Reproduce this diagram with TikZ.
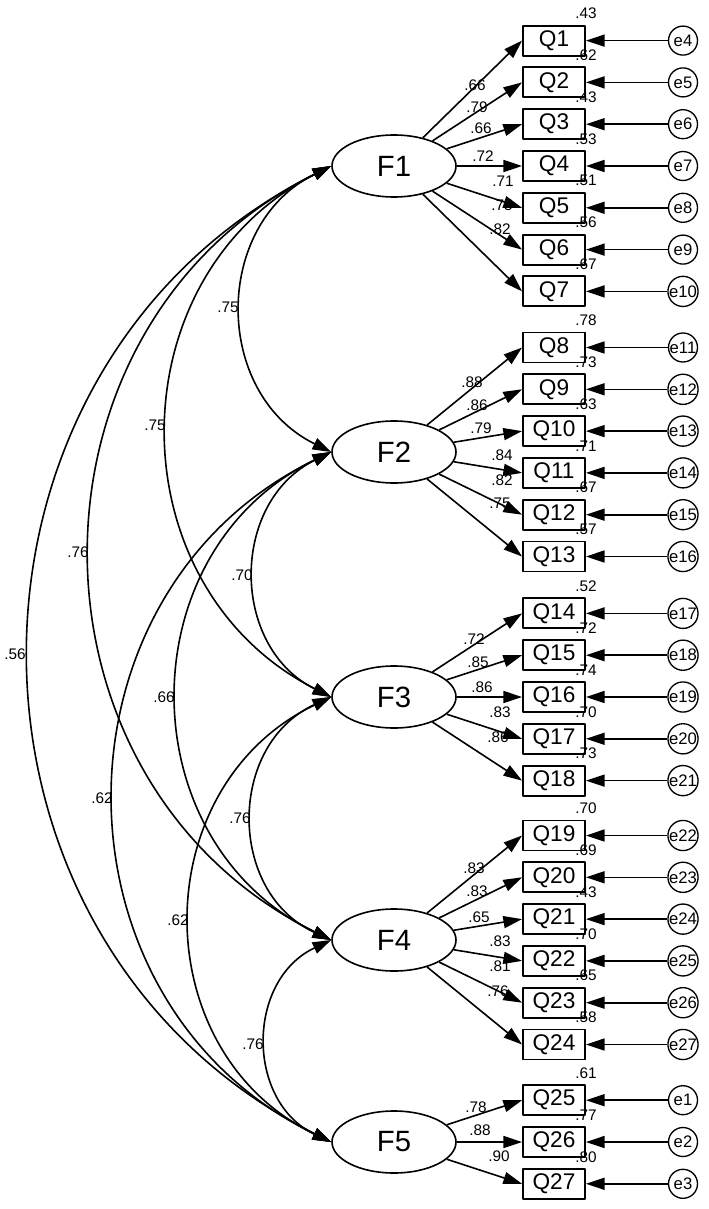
\documentclass[tikz,border=0pt]{standalone}
\usepackage{fontspec}
\setmainfont{Liberation Sans}
\usetikzlibrary{arrows.meta,shapes.geometric}

\tikzset{
  latent/.style={ellipse,draw,line width=1.2pt,minimum width=93pt,minimum height=46.5pt,inner sep=0pt,font=\fontsize{22}{22}\selectfont},
  item/.style={rectangle,draw,line width=1.4pt,minimum width=46.5pt,minimum height=22.5pt,inner sep=0pt,font=\fontsize{17}{17}\selectfont},
  resid/.style={circle,draw,line width=1pt,minimum size=21.75pt,inner sep=0pt,font=\fontsize{12.5}{12.5}\selectfont},
  est/.style={inner sep=0pt,font=\fontsize{11.5}{11.5}\selectfont},
  arr/.style={->,line width=1.2pt},
  covarr/.style={<->,line width=1.2pt}
}

\begin{document}
\begin{tikzpicture}[x=0.75pt, y=-0.75pt, >={Triangle[length=14pt,width=9pt]}, line join=round]
  \useasboundingbox (0,0) rectangle (708,1209);
  % factors
  \node[latent] (F1) at (394,166) {F1};
  \node[latent] (F2) at (394,452) {F2};
  \node[latent] (F3) at (394,697) {F3};
  \node[latent] (F4) at (394,940) {F4};
  \node[latent] (F5) at (394,1142) {F5};
  % items
  \node[item] (Q1) at (554,40.6) {Q1};
  \node[item] (Q2) at (554,82.4) {Q2};
  \node[item] (Q3) at (554,124.2) {Q3};
  \node[item] (Q4) at (554,166) {Q4};
  \node[item] (Q5) at (554,207.8) {Q5};
  \node[item] (Q6) at (554,249.6) {Q6};
  \node[item] (Q7) at (554,291.4) {Q7};
  \node[item] (Q8) at (554,347.5) {Q8};
  \node[item] (Q9) at (554,389.3) {Q9};
  \node[item] (Q10) at (554,431.1) {Q10};
  \node[item] (Q11) at (554,472.9) {Q11};
  \node[item] (Q12) at (554,514.7) {Q12};
  \node[item] (Q13) at (554,556.5) {Q13};
  \node[item] (Q14) at (554,613.4) {Q14};
  \node[item] (Q15) at (554,655.2) {Q15};
  \node[item] (Q16) at (554,697) {Q16};
  \node[item] (Q17) at (554,738.8) {Q17};
  \node[item] (Q18) at (554,780.6) {Q18};
  \node[item] (Q19) at (554,835.5) {Q19};
  \node[item] (Q20) at (554,877.3) {Q20};
  \node[item] (Q21) at (554,919.1) {Q21};
  \node[item] (Q22) at (554,960.9) {Q22};
  \node[item] (Q23) at (554,1002.7) {Q23};
  \node[item] (Q24) at (554,1044.5) {Q24};
  \node[item] (Q25) at (554,1100.2) {Q25};
  \node[item] (Q26) at (554,1142) {Q26};
  \node[item] (Q27) at (554,1183.8) {Q27};
  % errors
  \node[resid] (e4) at (683,40.6) {e4};
  \node[resid] (e5) at (683,82.4) {e5};
  \node[resid] (e6) at (683,124.2) {e6};
  \node[resid] (e7) at (683,166) {e7};
  \node[resid] (e8) at (683,207.8) {e8};
  \node[resid] (e9) at (683,249.6) {e9};
  \node[resid] (e10) at (683,291.4) {e10};
  \node[resid] (e11) at (683,347.5) {e11};
  \node[resid] (e12) at (683,389.3) {e12};
  \node[resid] (e13) at (683,431.1) {e13};
  \node[resid] (e14) at (683,472.9) {e14};
  \node[resid] (e15) at (683,514.7) {e15};
  \node[resid] (e16) at (683,556.5) {e16};
  \node[resid] (e17) at (683,613.4) {e17};
  \node[resid] (e18) at (683,655.2) {e18};
  \node[resid] (e19) at (683,697) {e19};
  \node[resid] (e20) at (683,738.8) {e20};
  \node[resid] (e21) at (683,780.6) {e21};
  \node[resid] (e22) at (683,835.5) {e22};
  \node[resid] (e23) at (683,877.3) {e23};
  \node[resid] (e24) at (683,919.1) {e24};
  \node[resid] (e25) at (683,960.9) {e25};
  \node[resid] (e26) at (683,1002.7) {e26};
  \node[resid] (e27) at (683,1044.5) {e27};
  \node[resid] (e1) at (683,1100.2) {e1};
  \node[resid] (e2) at (683,1142) {e2};
  \node[resid] (e3) at (683,1183.8) {e3};
  % loadings
  \draw[arr] (F1) -- (Q1.west);
  \draw[arr] (F1) -- (Q2.west);
  \draw[arr] (F1) -- (Q3.west);
  \draw[arr] (F1) -- (Q4.west);
  \draw[arr] (F1) -- (Q5.west);
  \draw[arr] (F1) -- (Q6.west);
  \draw[arr] (F1) -- (Q7.west);
  \draw[arr] (F2) -- (Q8.west);
  \draw[arr] (F2) -- (Q9.west);
  \draw[arr] (F2) -- (Q10.west);
  \draw[arr] (F2) -- (Q11.west);
  \draw[arr] (F2) -- (Q12.west);
  \draw[arr] (F2) -- (Q13.west);
  \draw[arr] (F3) -- (Q14.west);
  \draw[arr] (F3) -- (Q15.west);
  \draw[arr] (F3) -- (Q16.west);
  \draw[arr] (F3) -- (Q17.west);
  \draw[arr] (F3) -- (Q18.west);
  \draw[arr] (F4) -- (Q19.west);
  \draw[arr] (F4) -- (Q20.west);
  \draw[arr] (F4) -- (Q21.west);
  \draw[arr] (F4) -- (Q22.west);
  \draw[arr] (F4) -- (Q23.west);
  \draw[arr] (F4) -- (Q24.west);
  \draw[arr] (F5) -- (Q25.west);
  \draw[arr] (F5) -- (Q26.west);
  \draw[arr] (F5) -- (Q27.west);
  % residual paths
  \draw[arr] (e4) -- (Q1);
  \draw[arr] (e5) -- (Q2);
  \draw[arr] (e6) -- (Q3);
  \draw[arr] (e7) -- (Q4);
  \draw[arr] (e8) -- (Q5);
  \draw[arr] (e9) -- (Q6);
  \draw[arr] (e10) -- (Q7);
  \draw[arr] (e11) -- (Q8);
  \draw[arr] (e12) -- (Q9);
  \draw[arr] (e13) -- (Q10);
  \draw[arr] (e14) -- (Q11);
  \draw[arr] (e15) -- (Q12);
  \draw[arr] (e16) -- (Q13);
  \draw[arr] (e17) -- (Q14);
  \draw[arr] (e18) -- (Q15);
  \draw[arr] (e19) -- (Q16);
  \draw[arr] (e20) -- (Q17);
  \draw[arr] (e21) -- (Q18);
  \draw[arr] (e22) -- (Q19);
  \draw[arr] (e23) -- (Q20);
  \draw[arr] (e24) -- (Q21);
  \draw[arr] (e25) -- (Q22);
  \draw[arr] (e26) -- (Q23);
  \draw[arr] (e27) -- (Q24);
  \draw[arr] (e1) -- (Q25);
  \draw[arr] (e2) -- (Q26);
  \draw[arr] (e3) -- (Q27);
  % factor covariances
  \draw[covarr] (F1.west) .. controls +(-118.7,58.4) and +(-118.7,-58.4) .. (F2.west);
  \draw[covarr] (F1.west) .. controls +(-217.3,110.3) and +(-217.3,-110.3) .. (F3.west);
  \draw[covarr] (F1.west) .. controls +(-319.9,158.7) and +(-319.9,-158.7) .. (F4.west);
  \draw[covarr] (F1.west) .. controls +(-401.1,201.4) and +(-401.1,-201.4) .. (F5.west);
  \draw[covarr] (F2.west) .. controls +(-101.3,50.2) and +(-101.3,-50.2) .. (F3.west);
  \draw[covarr] (F2.west) .. controls +(-204.1,98.8) and +(-204.1,-98.8) .. (F4.west);
  \draw[covarr] (F2.west) .. controls +(-288.1,139.9) and +(-288.1,-139.9) .. (F5.west);
  \draw[covarr] (F3.west) .. controls +(-104.0,47.6) and +(-104.0,-47.6) .. (F4.west);
  \draw[covarr] (F3.west) .. controls +(-186.8,89.7) and +(-186.8,-89.7) .. (F5.west);
  \draw[covarr] (F4.west) .. controls +(-85.3,40.3) and +(-85.3,-40.3) .. (F5.west);
  % correlation labels
  \node[est] (c12) at (228,307) {.75};
  \node[est] (c13) at (155,425) {.75};
  \node[est] (c14) at (78,552) {.76};
  \node[est] (c15) at (15,654) {.56};
  \node[est] (c23) at (242,575) {.70};
  \node[est] (c24) at (164,697) {.66};
  \node[est] (c25) at (102,798) {.62};
  \node[est] (c34) at (240,818) {.76};
  \node[est] (c35) at (178,920) {.62};
  \node[est] (c45) at (253,1044) {.76};
  % standardized loadings
  \node[est] (w1) at (475,85) {.66};
  \node[est] (w2) at (477,107) {.79};
  \node[est] (w3) at (481,128) {.66};
  \node[est] (w4) at (483,156) {.72};
  \node[est] (w5) at (503,181) {.71};
  \node[est] (w6) at (502,205) {.75};
  \node[est] (w7) at (500,229) {.82};
  \node[est] (w8) at (472,382) {.88};
  \node[est] (w9) at (477,405) {.86};
  \node[est] (w10) at (481,428) {.79};
  \node[est] (w11) at (502,455) {.84};
  \node[est] (w12) at (502,480) {.82};
  \node[est] (w13) at (500,503) {.75};
  \node[est] (w14) at (474,639) {.72};
  \node[est] (w15) at (478,662) {.85};
  \node[est] (w16) at (482,687) {.86};
  \node[est] (w17) at (500,712) {.83};
  \node[est] (w18) at (498,737) {.86};
  \node[est] (w19) at (474,868) {.83};
  \node[est] (w20) at (477,891) {.83};
  \node[est] (w21) at (479,917) {.65};
  \node[est] (w22) at (500,941) {.83};
  \node[est] (w23) at (500,966) {.81};
  \node[est] (w24) at (498,991) {.76};
  \node[est] (w25) at (476,1107) {.78};
  \node[est] (w26) at (480,1130) {.88};
  \node[est] (w27) at (499,1156) {.90};
  % squared multiple correlations
  \node[est] (r1) at (586,13.6) {.43};
  \node[est] (r2) at (586,55.4) {.62};
  \node[est] (r3) at (586,97.2) {.43};
  \node[est] (r4) at (586,139) {.53};
  \node[est] (r5) at (586,180.8) {.51};
  \node[est] (r6) at (586,222.6) {.56};
  \node[est] (r7) at (586,264.4) {.67};
  \node[est] (r8) at (586,320.5) {.78};
  \node[est] (r9) at (586,362.3) {.73};
  \node[est] (r10) at (586,404.1) {.63};
  \node[est] (r11) at (586,445.9) {.71};
  \node[est] (r12) at (586,487.7) {.67};
  \node[est] (r13) at (586,529.5) {.57};
  \node[est] (r14) at (586,586.4) {.52};
  \node[est] (r15) at (586,628.2) {.72};
  \node[est] (r16) at (586,670) {.74};
  \node[est] (r17) at (586,711.8) {.70};
  \node[est] (r18) at (586,753.6) {.73};
  \node[est] (r19) at (586,808.5) {.70};
  \node[est] (r20) at (586,850.3) {.69};
  \node[est] (r21) at (586,892.1) {.43};
  \node[est] (r22) at (586,933.9) {.70};
  \node[est] (r23) at (586,975.7) {.65};
  \node[est] (r24) at (586,1017.5) {.58};
  \node[est] (r25) at (586,1073.2) {.61};
  \node[est] (r26) at (586,1115) {.77};
  \node[est] (r27) at (586,1156.8) {.80};
\end{tikzpicture}
\end{document}
